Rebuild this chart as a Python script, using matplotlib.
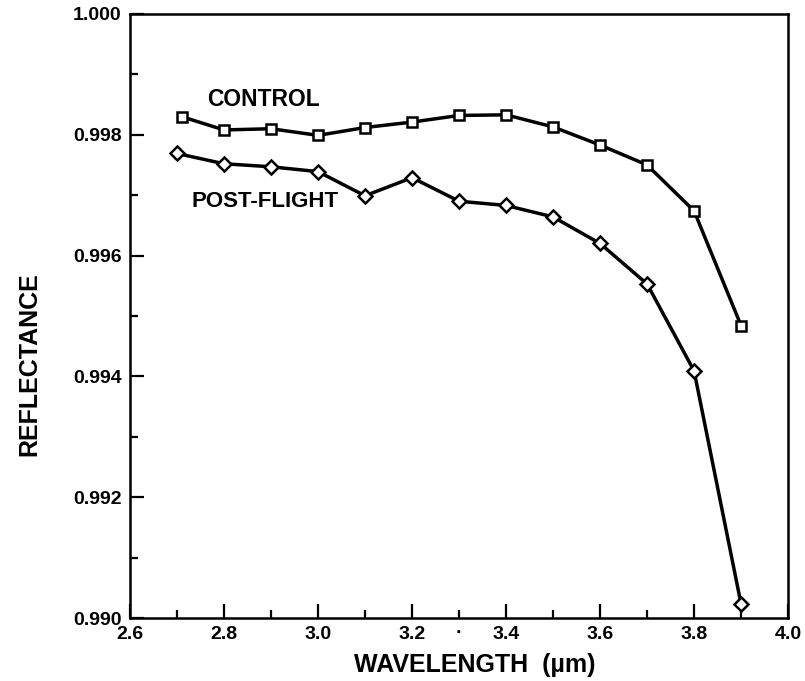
import numpy as np
import matplotlib
matplotlib.use("Agg")
from matplotlib import pyplot as plt
from matplotlib.ticker import MultipleLocator, FormatStrFormatter

plt.rcParams['font.family'] = ['Liberation Sans', 'DejaVu Sans']
plt.rcParams['font.weight'] = 'bold'

# readings
wl = [2.7, 2.8, 2.9, 3.0, 3.1, 3.2, 3.3, 3.4, 3.5, 3.6, 3.7, 3.8, 3.9]
control_wl = [2.71, 2.8, 2.9, 3.0, 3.1, 3.2, 3.3, 3.4, 3.5, 3.6, 3.7, 3.8, 3.9]
control = [0.99830, 0.99808, 0.99810, 0.99799, 0.99812, 0.99821, 0.99832,
           0.99833, 0.99813, 0.99783, 0.99750, 0.99674, 0.99484]
postflight = [0.99769, 0.99752, 0.99747, 0.99739, 0.99699, 0.99729, 0.99690,
              0.99683, 0.99664, 0.99620, 0.99553, 0.99409, 0.99023]

fig = plt.figure(figsize=(8.05, 6.81), dpi=100)
ax = fig.add_axes([0.1615, 0.0925, 0.8175, 0.887])

ax.plot(control_wl, control, color='black', lw=2.5, marker='s', ms=7.5,
        mfc='white', mec='black', mew=1.8)
ax.plot(wl, postflight, color='black', lw=2.5, marker='D', ms=7.5,
        mfc='white', mec='black', mew=1.8)

ax.text(2.763, 0.99858, "CONTROL", fontsize=16.5, fontweight='bold', va='center')
ax.text(2.731, 0.99689, "POST-FLIGHT", fontsize=16, fontweight='bold', va='center')

ax.set_xlim(2.6, 4.0)
ax.set_ylim(0.990, 1.000)
ax.xaxis.set_major_locator(MultipleLocator(0.2))
ax.xaxis.set_minor_locator(MultipleLocator(0.1))
ax.yaxis.set_major_locator(MultipleLocator(0.002))
ax.yaxis.set_minor_locator(MultipleLocator(0.001))
ax.xaxis.set_major_formatter(FormatStrFormatter('%.1f'))
ax.yaxis.set_major_formatter(FormatStrFormatter('%.3f'))
ax.tick_params(which='both', direction='in', width=1.6, labelsize=14, pad=6)
ax.tick_params(which='major', length=10)
ax.tick_params(which='minor', length=6)
for s in ax.spines.values():
    s.set_linewidth(1.8)

ax.set_xlabel("WAVELENGTH  (µm)", fontsize=18, fontweight='bold')
ax.set_ylabel("REFLECTANCE", fontsize=18, fontweight='bold')
ax.xaxis.set_label_coords(0.524, -0.058)
ax.yaxis.set_label_coords(-0.135, 0.42)

# stray dot under the axis in the original scan
ax.text(3.3, -0.025, "·", transform=ax.get_xaxis_transform(), ha='center',
        va='center', fontsize=14)

fig.savefig("out.png", dpi=100)
